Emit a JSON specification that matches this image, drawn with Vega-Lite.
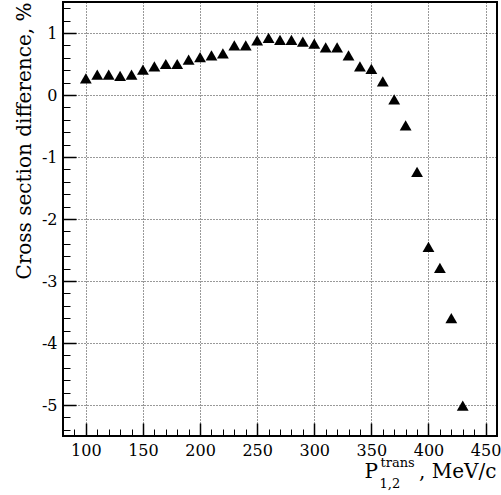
{
  "$schema": "https://vega.github.io/schema/vega-lite/v6.json",
  "width": 434,
  "height": 434,
  "autosize": "none",
  "padding": {"left": 63, "top": 2, "right": 4, "bottom": 59},
  "background": "white",
  "config": {
    "font": "DejaVu Serif",
    "view": {"stroke": "#000", "strokeWidth": 2},
    "axis": {
      "labelFont": "DejaVu Serif",
      "titleFont": "DejaVu Serif",
      "labelColor": "#000",
      "titleColor": "#000",
      "tickColor": "#000",
      "titleFontWeight": "normal",
      "domain": false
    }
  },
  "data": {
    "values": [
      {"x": 100, "y": 0.27}, {"x": 110, "y": 0.33}, {"x": 120, "y": 0.33}, {"x": 130, "y": 0.31},
      {"x": 140, "y": 0.33}, {"x": 150, "y": 0.41}, {"x": 160, "y": 0.46}, {"x": 170, "y": 0.5},
      {"x": 180, "y": 0.5}, {"x": 190, "y": 0.57}, {"x": 200, "y": 0.61}, {"x": 210, "y": 0.64},
      {"x": 220, "y": 0.67}, {"x": 230, "y": 0.8}, {"x": 240, "y": 0.8}, {"x": 250, "y": 0.88},
      {"x": 260, "y": 0.92}, {"x": 270, "y": 0.89}, {"x": 280, "y": 0.89}, {"x": 290, "y": 0.86},
      {"x": 300, "y": 0.83}, {"x": 310, "y": 0.77}, {"x": 320, "y": 0.77}, {"x": 330, "y": 0.64},
      {"x": 340, "y": 0.46}, {"x": 350, "y": 0.42}, {"x": 360, "y": 0.22}, {"x": 370, "y": -0.07},
      {"x": 380, "y": -0.49}, {"x": 390, "y": -1.24}, {"x": 400, "y": -2.45}, {"x": 410, "y": -2.79},
      {"x": 420, "y": -3.6}, {"x": 430, "y": -5.01}
    ]
  },
  "resolve": {"axis": {"x": "independent", "y": "independent"}},
  "layer": [
    {
      "mark": {"type": "point", "shape": "triangle-up", "filled": true, "color": "#000", "size": 140, "opacity": 1},
      "encoding": {
        "x": {
          "field": "x", "type": "quantitative",
          "scale": {"domain": [80, 460], "nice": false, "zero": false},
          "axis": {
            "orient": "bottom",
            "values": [100, 150, 200, 250, 300, 350, 400, 450],
            "grid": true, "gridColor": "#000", "gridDash": [1, 2], "gridWidth": 1, "gridOpacity": 0.8,
            "tickSize": -13, "tickWidth": 1.5,
            "labelPadding": 19, "labelFontSize": 16,
            "title": ", MeV/c", "titleFontSize": 20,
            "titleX": 433, "titleY": 41, "titleAlign": "right", "titleBaseline": "alphabetic"
          }
        },
        "y": {
          "field": "y", "type": "quantitative",
          "scale": {"domain": [-5.5, 1.5], "nice": false, "zero": false},
          "axis": {
            "orient": "left",
            "values": [-5, -4, -3, -2, -1, 0, 1],
            "labelExpr": "replace(datum.label, '\u2212', '-')",
            "grid": true, "gridColor": "#000", "gridDash": [1, 2], "gridWidth": 1, "gridOpacity": 0.8,
            "tickSize": -13, "tickWidth": 1.5,
            "labelPadding": 19, "labelFontSize": 16,
            "title": "Cross section difference, %", "titleFontSize": 20,
            "titleX": -33, "titleY": 0, "titleAngle": 270, "titleAlign": "right", "titleBaseline": "alphabetic"
          }
        }
      }
    },
    {
      "mark": {"type": "point", "opacity": 0},
      "encoding": {
        "x": {
          "field": "x", "type": "quantitative",
          "axis": {
            "orient": "bottom",
            "values": [90, 110, 120, 130, 140, 160, 170, 180, 190, 210, 220, 230, 240, 260, 270, 280, 290, 310, 320, 330, 340, 360, 370, 380, 390, 410, 420, 430, 440],
            "grid": false, "labels": false, "tickSize": -7, "tickWidth": 1,
            "title": "P", "titleFontSize": 20,
            "titleX": 301, "titleY": 41, "titleAlign": "left", "titleBaseline": "alphabetic"
          }
        },
        "y": {
          "field": "y", "type": "quantitative",
          "axis": {
            "orient": "left",
            "values": [-5.4, -5.2, -4.8, -4.6, -4.4, -4.2, -3.8, -3.6, -3.4, -3.2, -2.8, -2.6, -2.4, -2.2, -1.8, -1.6, -1.4, -1.2, -0.8, -0.6, -0.4, -0.2, 0.2, 0.4, 0.6, 0.8, 1.2, 1.4],
            "grid": false, "labels": false, "tickSize": -7, "tickWidth": 1,
            "title": null
          }
        }
      }
    },
    {
      "mark": {"type": "point", "opacity": 0},
      "encoding": {
        "x": {
          "field": "x", "type": "quantitative",
          "axis": {
            "orient": "bottom", "ticks": false, "labels": false, "grid": false,
            "title": "trans", "titleFontSize": 13,
            "titleX": 317, "titleY": 30, "titleAlign": "left", "titleBaseline": "alphabetic"
          }
        },
        "y": {"field": "y", "type": "quantitative", "axis": null}
      }
    },
    {
      "mark": {"type": "point", "opacity": 0},
      "encoding": {
        "x": {
          "field": "x", "type": "quantitative",
          "axis": {
            "orient": "bottom", "ticks": false, "labels": false, "grid": false,
            "title": "1,2", "titleFontSize": 13,
            "titleX": 316, "titleY": 51, "titleAlign": "left", "titleBaseline": "alphabetic"
          }
        },
        "y": {"field": "y", "type": "quantitative", "axis": null}
      }
    }
  ]
}
